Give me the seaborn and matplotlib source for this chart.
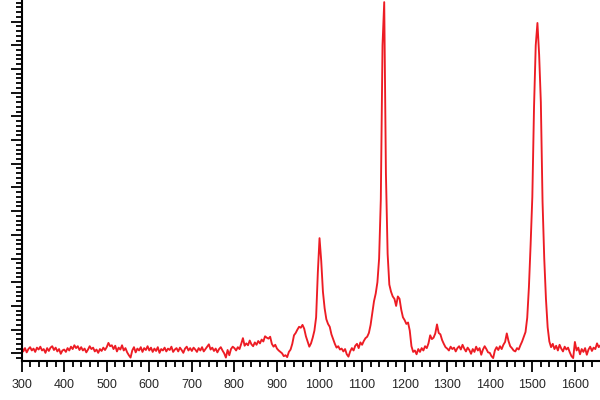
import numpy as np
import pandas as pd
import matplotlib
matplotlib.use('Agg')
import matplotlib.pyplot as plt
from matplotlib.ticker import MultipleLocator, NullFormatter
import seaborn as sns

# spectrum, one list per 100 cm-1 (step 4)
counts_300 = [150, 40, 110, 20, 90, 130, 60, 100, 30, 120, 80, 140, 60, 90, 10,
              110, 50, 120, 150, 70, 120, 40, 90, -10, 60]
counts_400 = [80, 30, 110, 60, 140, 90, 170, 110, 150, 70, 130, 60, 100, 20, 80,
              150, 90, 120, 40, 80, 10, 90, 50, 120, 70]
counts_500 = [130, 220, 150, 170, 90, 160, 40, 120, 80, 170, 60, 110, 20, -40, -90,
              60, 130, 20, 100, 60, 130, 30, 110, 70, 150]
counts_600 = [60, 120, 30, 100, 50, 130, 10, 90, 60, 120, 40, 100, 70, 140, 30,
              80, 110, 40, 120, 70, 10, 100, 140, 60, 110]
counts_700 = [50, 120, 80, 30, 110, 60, 130, 40, 90, 140, 190, 80, 120, 50, 100,
              20, 90, 130, 60, 0, -90, 70, -40, 90, 140]
counts_800 = [110, 60, 130, 90, 200, 320, 160, 210, 170, 270, 190, 150, 230, 180, 260,
              210, 290, 250, 360, 330, 310, 350, 200, 140, 180]
counts_900 = [100, 60, 30, 0, -60, -40, -80, 30, 80, 200, 380, 430, 500, 560, 540,
              600, 520, 360, 250, 140, 210, 330, 480, 760, 1700]
counts_1000 = [2430, 1950, 1300, 950, 720, 620, 560, 400, 300, 200, 120, 150, 80, 100, 40,
               90, -20, -70, 40, 110, 60, 160, 200, 110, 230]
counts_1100 = [180, 260, 320, 350, 430, 600, 850, 1100, 1260, 1500, 2000, 3250, 6500, 7410, 3800,
               2100, 1450, 1300, 1200, 1150, 1000, 1200, 1150, 920, 760]
counts_1200 = [700, 620, 650, 480, 150, 30, 60, -20, 90, 30, 110, 60, 150, 110, 210,
               380, 300, 330, 420, 610, 430, 400, 280, 200, 130]
counts_1300 = [100, 60, 140, 90, 120, 40, 110, 150, 80, 180, 100, 40, 120, 70, -10,
               90, 30, 140, 60, 110, -30, 80, 150, 90, 20]
counts_1400 = [10, -60, -100, 60, 130, 70, 150, 90, 180, 240, 420, 260, 150, 110, 60,
               40, 110, 80, 170, 250, 350, 450, 750, 1400, 2300]
counts_1500 = [3300, 5200, 6500, 6970, 6300, 5300, 3200, 2000, 1150, 550, 250, 130, 200, 90, 160,
               60, 180, 100, 40, 140, 80, 120, 20, -60, -100]
counts_1600 = [240, 60, 120, -20, 90, 30, 110, -30, 80, 140, 50, 120, 90, 210, 130, 170]

intensity = (counts_300 + counts_400 + counts_500 + counts_600 + counts_700 +
             counts_800 + counts_900 + counts_1000 + counts_1100 + counts_1200 +
             counts_1300 + counts_1400 + counts_1500 + counts_1600)
wavenumber = np.arange(300, 1661, 4)

df = pd.DataFrame({'shift': wavenumber, 'counts': intensity})

sns.set_style('ticks')
plt.rcParams['font.family'] = ['Liberation Sans', 'DejaVu Sans']

fig, ax = plt.subplots(figsize=(6, 4), dpi=100)
fig.subplots_adjust(left=0.036, bottom=0.0975, right=1.0, top=1.0)

sns.lineplot(data=df, x='shift', y='counts', ax=ax, color='#ed1c24', linewidth=1.35)

ax.set_xlim(300, 1659)
ax.set_ylim(-162, 7455)
ax.xaxis.set_major_locator(MultipleLocator(100))
ax.xaxis.set_minor_locator(MultipleLocator(20))
ax.yaxis.set_major_locator(MultipleLocator(500))
ax.yaxis.set_minor_locator(MultipleLocator(100))
ax.yaxis.set_major_formatter(NullFormatter())

ax.tick_params(axis='both', which='major', length=8, width=1.3, color='black', labelsize=9, pad=5)
ax.tick_params(axis='both', which='minor', length=4, width=1.3, color='black')
ax.set_xlabel('')
ax.set_ylabel('')

sns.despine(ax=ax)
for side in ['left', 'bottom']:
    ax.spines[side].set_linewidth(1.5)
    ax.spines[side].set_color('black')

plt.savefig('out.png', dpi=100)
